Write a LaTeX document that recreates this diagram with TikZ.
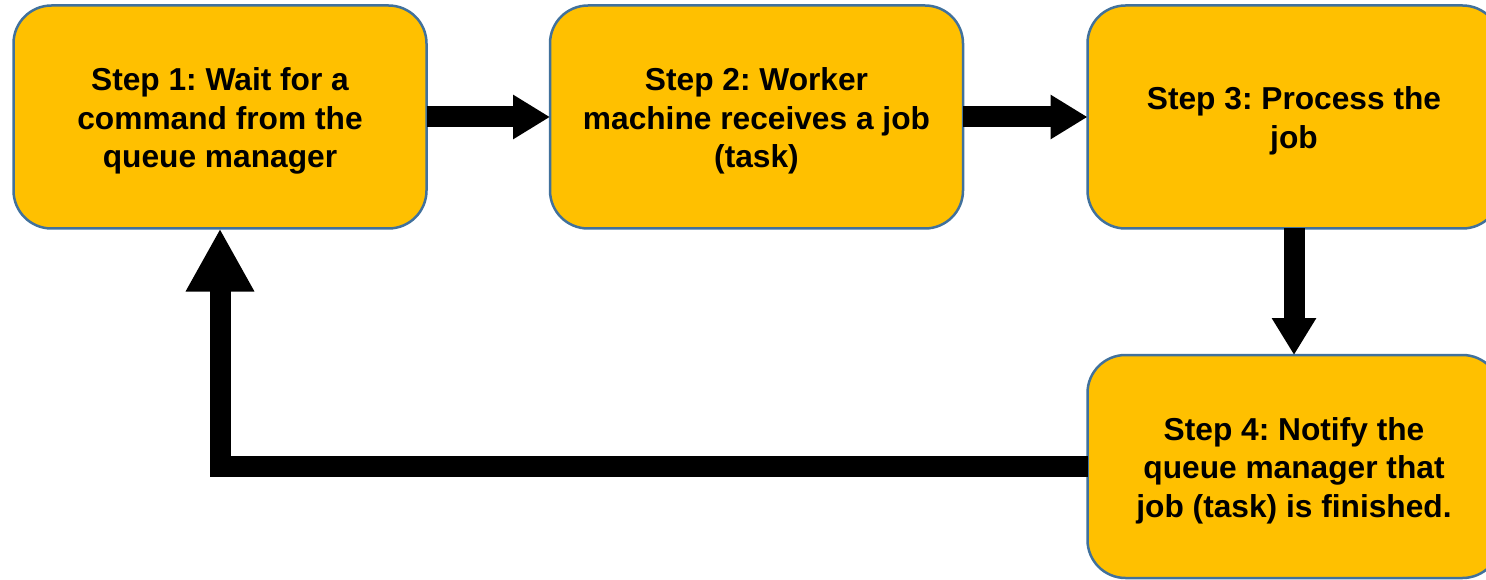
\documentclass[tikz,border=0pt]{standalone}
\usepackage{fontspec}
\setmainfont{Liberation Sans}
\usetikzlibrary{arrows.meta}
\definecolor{boxfill}{HTML}{FFC000}
\definecolor{boxline}{HTML}{41719C}
\newcommand{\topstrut}{\rule{0pt}{31pt}}
\begin{document}
\frenchspacing
\begin{tikzpicture}[x=1pt,y=-1pt,
  stepbox/.style={draw=boxline, line width=2.5pt, fill=boxfill, rounded corners=38pt,
    minimum width=413pt, minimum height=223pt, inner sep=0pt, outer sep=0pt, align=center,
    font=\fontsize{31.7}{38.5}\selectfont\bfseries\frenchspacing, text=black},
  flow/.style={line width=21pt, line join=miter, -{Triangle[length=37pt,width=42pt]}},
  backflow/.style={line width=21pt, line join=miter, -{Triangle[length=63pt,width=64pt]}}]
\useasboundingbox (0,0) rectangle (1486,580);
\node[stepbox] (b1) at (220,117) {\topstrut Step 1: Wait for a\\command from the\\queue manager};
\node[stepbox] (b2) at (756.5,117) {\topstrut Step 2: Worker\\machine receives a job\\(task)};
\node[stepbox] (b3) at (1294,117) {\topstrut Step 3: Process the\\job};
\node[stepbox] (b4) at (1294,466.5) {\topstrut Step 4: Notify the\\queue manager that\\job (task) is finished.};
\draw[flow] (b1.east) -- (b2.west);
\draw[flow] (b2.east) -- (b3.west);
\draw[flow] (b3.south) -- (b4.north);
\draw[backflow] (b4.west) -| (b1.south);
\end{tikzpicture}
\end{document}
